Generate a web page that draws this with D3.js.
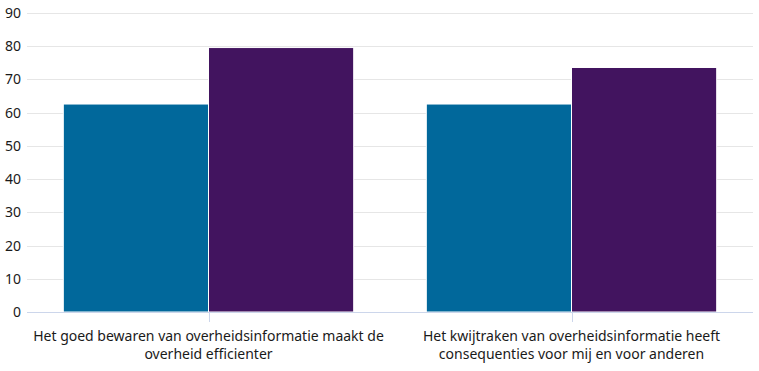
<!DOCTYPE html>
<html>
<head>
<meta charset="utf-8">
<script src="https://cdn.jsdelivr.net/npm/d3@7"></script>
<style>
  body { margin: 0; background: #fff; }
  text { font-family: "Noto Sans", sans-serif; }
</style>
</head>
<body>
<div id="chart"></div>
<script>
var categories = [
    "Het goed bewaren van overheidsinformatie maakt de overheid efficienter",
    "Het kwijtraken van overheidsinformatie heeft consequenties voor mij en voor anderen"
];
var series1 = [62.6, 62.6];
var series2 = [79.6, 73.6];
var yTicks = [0, 10, 20, 30, 40, 50, 60, 70, 80, 90];
var colors = ["#01689b", "#42145f"];

document.addEventListener("DOMContentLoaded", function(e) {
    chart1();
});

function wrap(sel, width) {
    sel.each(function() {
        var text = d3.select(this);
        var words = text.text().split(" ");
        var line = [];
        var lineNo = 0;
        var x = text.attr("x");
        var y = text.attr("y");
        var tspan = text.text(null).append("tspan").attr("x", x).attr("y", y);
        words.forEach(function(w) {
            line.push(w);
            tspan.text(line.join(" "));
            if (tspan.node().getComputedTextLength() > width && line.length > 1) {
                line.pop();
                tspan.text(line.join(" "));
                line = [w];
                lineNo++;
                tspan = text.append("tspan").attr("x", x).attr("y", +y + lineNo * 18).text(w);
            }
        });
    });
}

function chart1() {
    var width = 759;
    var height = 371;
    var left = 27, right = 753, top = 13, bottom = 312;

    var svg = d3.select("#chart")
        .append("svg")
        .attr("width", width)
        .attr("height", height);

    var x = d3.scaleBand().domain(d3.range(categories.length)).range([left, right]);
    var y = d3.scaleLinear().domain([0, 90]).range([bottom, top]);
    var groupPad = x.bandwidth() * 0.1;
    var barW = (x.bandwidth() - 2 * groupPad) / 2;

    // gridlines
    svg.selectAll(".grid")
        .data(yTicks.slice(1))
        .enter().append("line")
        .attr("x1", left).attr("x2", right)
        .attr("y1", function(d) { return Math.round(y(d)) + 0.5; })
        .attr("y2", function(d) { return Math.round(y(d)) + 0.5; })
        .attr("stroke", "#e6e6e6");

    // y labels
    svg.selectAll(".ylab")
        .data(yTicks)
        .enter().append("text")
        .attr("x", 21)
        .attr("y", function(d) { return y(d) + 5; })
        .attr("text-anchor", "end")
        .attr("font-size", 14)
        .attr("fill", "#1a1a1a")
        .text(function(d) { return d; });

    var allSeries = [series1, series2];
    for (var s = 0; s < allSeries.length; s++) {
        for (var i = 0; i < categories.length; i++) {
            svg.append("rect")
                .attr("x", x(i) + groupPad + s * barW)
                .attr("y", y(allSeries[s][i]))
                .attr("width", barW)
                .attr("height", y(0) - y(allSeries[s][i]))
                .attr("fill", colors[s])
                .attr("stroke", "#fff")
                .attr("stroke-width", 1);
        }
    }

    // x axis
    svg.append("line")
        .attr("x1", left).attr("x2", right)
        .attr("y1", bottom + 0.5).attr("y2", bottom + 0.5)
        .attr("stroke", "#ccd6eb");
    for (var i = 0; i < categories.length; i++) {
        var cx = Math.round(x(i) + x.bandwidth() / 2) + 0.5;
        svg.append("line")
            .attr("x1", cx).attr("x2", cx)
            .attr("y1", bottom).attr("y2", bottom + 10)
            .attr("stroke", "#ccd6eb");
        svg.append("text")
            .attr("class", "xlab")
            .attr("x", x(i) + x.bandwidth() / 2)
            .attr("y", 341)
            .attr("text-anchor", "middle")
            .attr("font-size", 14)
            .attr("fill", "#1a1a1a")
            .text(categories[i]);
    }
    svg.selectAll(".xlab").call(wrap, 362);
}
</script>
</body>
</html>
